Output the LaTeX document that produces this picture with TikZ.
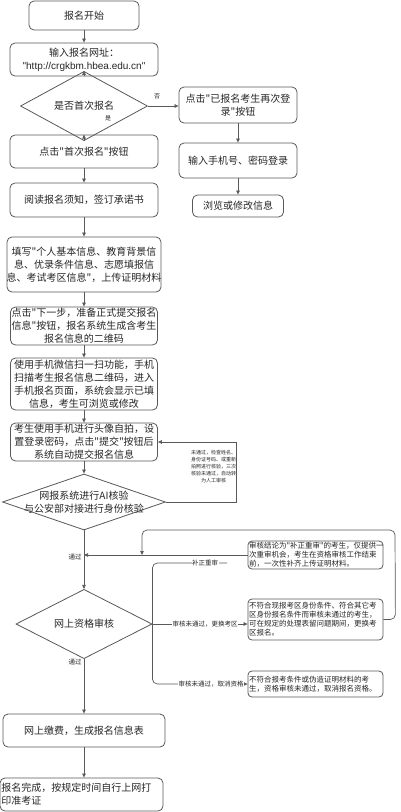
\documentclass[tikz,border=0pt]{standalone}
\usepackage{fontspec}
\setmainfont{Noto Sans CJK SC}[Ligatures=TeXOff]
\newfontfamily\latinf{Liberation Sans}[Ligatures=TeXOff]
\usetikzlibrary{shapes.geometric,arrows.meta}
\definecolor{lc}{HTML}{595959}
\definecolor{tc}{HTML}{262626}
\newcommand\mkc[1]{\makebox[0pt]{#1}}
\tikzset{
 box/.style={draw=lc, rounded corners=5pt, line width=0.8pt, inner sep=0pt, align=center, text=tc, font=\fontsize{10}{13}\selectfont},
 dia/.style={draw=lc, diamond, line width=0.8pt, inner sep=0pt, align=center, text=tc, font=\fontsize{10}{13}\selectfont},
 sbox/.style={draw=lc, rounded corners=4pt, line width=0.8pt, inner sep=1pt, align=left, text=tc, font=\fontsize{7.5}{9}\selectfont, text width=133pt},
 conn/.style={draw=lc, line width=0.7pt},
 arr/.style={conn, -{Triangle[length=4pt,width=3.5pt]}},
 lab/.style={text=tc, font=\fontsize{6.5}{8}\selectfont, inner sep=0.5pt},
 wlab/.style={lab, fill=white},
}
\begin{document}
\begin{tikzpicture}[x=1pt,y=-1pt]
\useasboundingbox (0,0) rectangle (400,812);
\fill[white] (0,0) rectangle (400,812);

% left column
\node[box, minimum width=110, minimum height=29] (start) at (84,15.5) {报名开始};
\node[box, minimum width=148, minimum height=33] (url) at (84,59.5) {\mkc{输入报名网址：}\\\mkc{\latinf "http://crgkbm.hbea.edu.cn"}};
\node[dia, minimum width=127, minimum height=27] (d1) at (84,106) {是否首次报名};
\node[box, minimum width=148, minimum height=33] (first) at (84,151.5) {点击"首次报名"按钮};
\node[box, minimum width=148, minimum height=34] (read) at (84,200) {阅读报名须知，签订承诺书};
\node[box, minimum width=154, minimum height=55] (fill) at (84,264.5) {\mkc{填写"个人基本信息、教育背景信}\\\mkc{息、优录条件信息、志愿填报信}\\\mkc{息、考试考区信息"，上传证明材料}};
\node[box, minimum width=147, minimum height=38] (next) at (84,326) {\mkc{点击"下一步，准备正式提交报名}\\\mkc{信息"按钮，报名系统生成含考生}\\\mkc{报名信息的二维码}};
\node[box, minimum width=147, minimum height=52] (scan) at (84,384) {\mkc{使用手机微信扫一扫功能，手机}\\\mkc{扫描考生报名信息二维码，进入}\\\mkc{手机报名页面，系统会显示已填}\\\mkc{信息，考生可浏览或修改}};
\node[box, minimum width=147, minimum height=38] (selfie) at (84,442) {\mkc{考生使用手机进行头像自拍，设}\\\mkc{置登录密码，点击"提交"按钮后}\\\mkc{系统自动提交报名信息}};
\node[dia, minimum width=163, minimum height=56] (d2) at (84,502) {\mkc{网报系统进行AI核验}\\\mkc{与公安部对接进行身份核验}};
\node[dia, minimum width=136, minimum height=56] (d3) at (84,624) {网上资格审核};
\node[box, minimum width=162, minimum height=33] (pay) at (84,730.5) {网上缴费，生成报名信息表};
\node[box, align=left, text width=160pt, inner sep=1.5pt, minimum height=33] (done) at (81.5,794.5) {报名完成，按规定时间自行上网打\\印准考证};

% right column
\node[box, minimum width=118, minimum height=36] (relogin) at (238,105) {\mkc{点击"已报名考生再次登}\\\mkc{录"按钮}};
\node[box, minimum width=118, minimum height=35] (phone) at (238,160.5) {输入手机号、密码登录};
\node[box, minimum width=91, minimum height=22] (browse) at (238,206) {浏览或修改信息};

\node[sbox, minimum height=28] (r1) at (315.5,555) {审核结论为"补正重审"的考生，仅提供一\\次重审机会，考生在资格审核工作结束\\前，一次性补齐上传证明材料。};
\node[sbox, minimum height=41] (r2) at (315.5,619.5) {不符合现报考区身份条件、符合其它考\\区身份报名条件而审核未通过的考生，\\可在规定的处理表留问题期间，更换考\\区报名。};
\node[sbox, minimum height=26] (r3) at (315.5,684) {不符合报考条件或伪造证明材料的考\\生，资格审核未通过，取消报名资格。};

\coordinate (fbx) at (236,480);
\coordinate (j1) at (84,555);
\coordinate (j2) at (142,555);
\coordinate (bz) at (227,563);

% connectors
\draw[arr] (start) -- (url);
\draw[arr] (url) -- (d1);
\draw[arr] (d1) -- (first);
\draw[arr] (d1.east) -- (d1.east -| relogin.west);
\draw[arr] (relogin) -- (phone);
\draw[arr] (phone) -- (browse);
\draw[arr] (first) -- (read);
\draw[arr] (read) -- (fill);
\draw[arr] (fill) -- (next);
\draw[arr] (next) -- (scan);
\draw[arr] (scan) -- (selfie);
\draw[arr] (selfie) -- (d2);
\draw[arr] (d2.east) -- (d2.east -| fbx) -- (selfie.east -| fbx) -- (selfie.east);
\draw[arr] (d2) -- (d3);
\draw[arr] (r1.west) -- (j1);
\draw[arr, rounded corners=5pt] (r2.east) -- ++(12,0) -- (395,530) -- (142,530) -- (j2);
\draw[conn, rounded corners=5pt] (d3.east) -- (d3.east |- bz) -- (bz);
\draw[arr] (d3.east) -- (d3.east -| r2.west);
\draw[arr, rounded corners=5pt] (d3.east) -- (d3.east |- r3.west) -- (r3.west);
\draw[arr] (d3) -- (pay);
\draw[arr] (pay.south) -- (pay.south |- done.north);

% labels
\node[lab, font=\fontsize{6}{7}\selectfont] (no) at (157,96) {否};
\node[lab, font=\fontsize{6}{7}\selectfont] (yes) at (108,118) {是};
\node[lab, align=center, font=\fontsize{5}{7}\selectfont] (fbl) at (213.5,467) {未通过，检查姓名、\\身份证号码、或重新\\拍照进行核验，三次\\核验未通过，自动转\\为人工审核};
\node[lab] (pass1) at (75,557) {通过};
\node[lab] (pass2) at (75,662) {通过};
\node[wlab] (lbz) at (205,563) {补正重审};
\node[wlab] (lhk) at (205,624) {审核未通过，更换考区};
\node[wlab] (lqx) at (211,684) {审核未通过，取消资格};
\end{tikzpicture}
\end{document}
